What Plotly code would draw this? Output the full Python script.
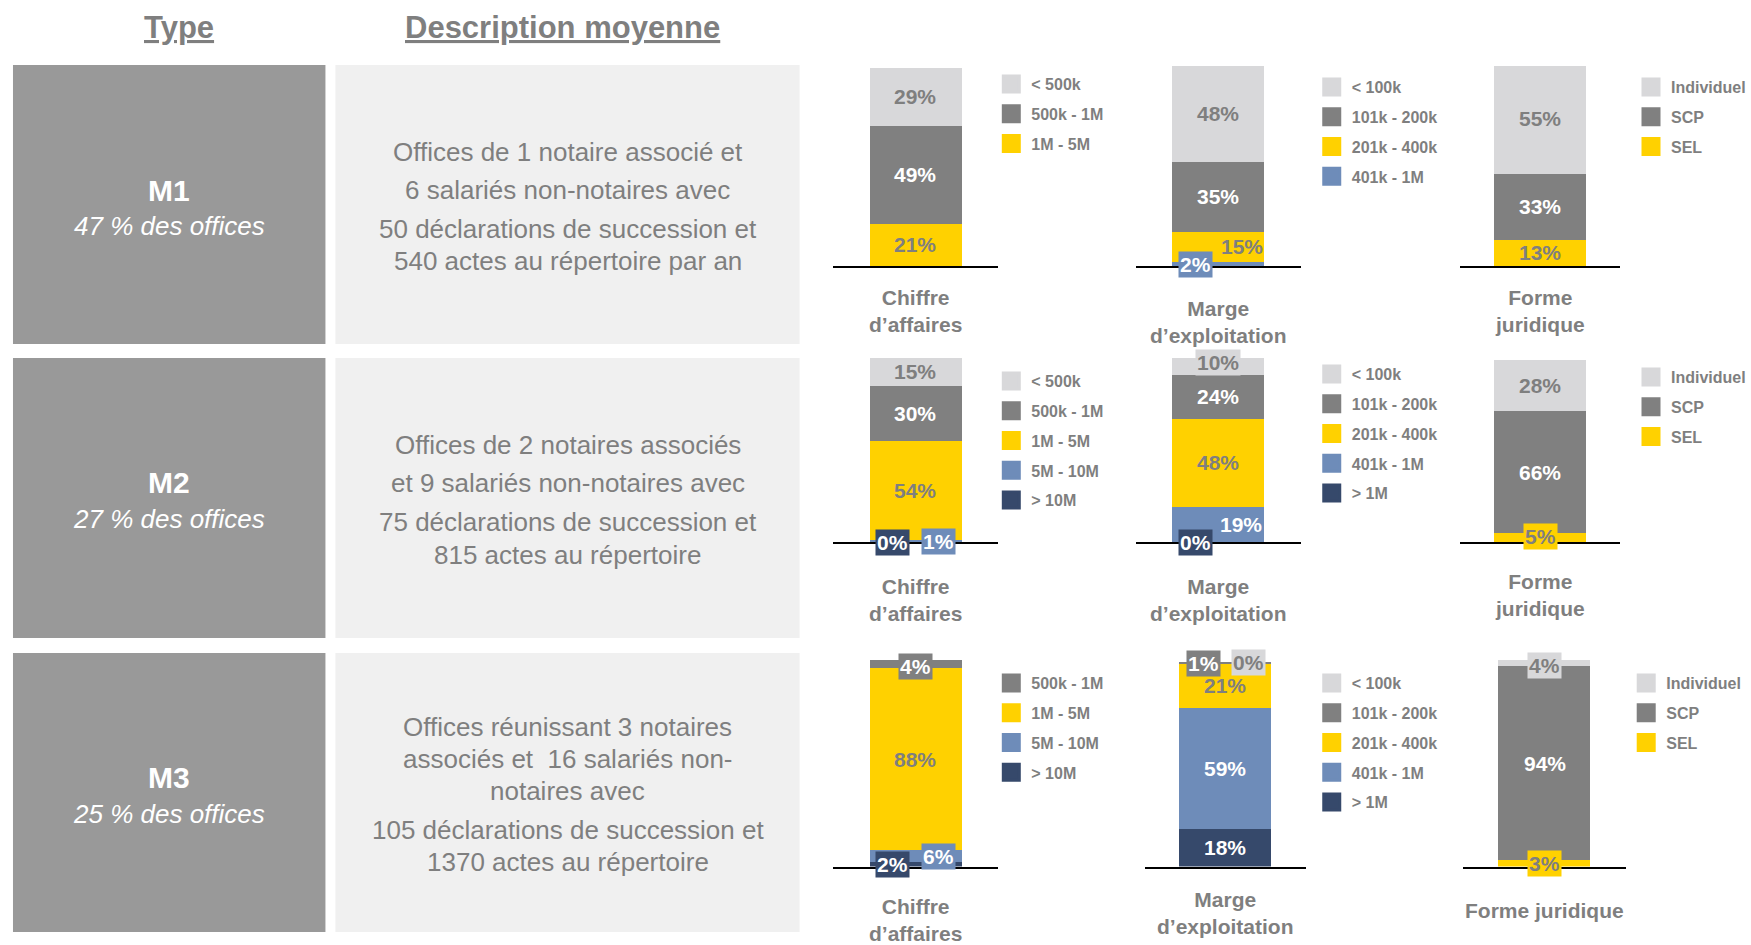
import plotly.graph_objects as go

W, H = 1751, 945
FONT = "Liberation Sans, Arial, sans-serif"
GRAY_TXT = "#7f7f7f"

# ---------------- data ----------------
row_names = ["M1", "M2", "M3"]
row_shares = ["47 % des offices", "27 % des offices", "25 % des offices"]
descriptions = [
    ["Offices de 1 notaire associé et", "6 salariés non-notaires avec",
     "50 déclarations de succession et", "540 actes au répertoire par an"],
    ["Offices de 2 notaires associés", "et 9 salariés non-notaires avec",
     "75 déclarations de succession et", "815 actes au répertoire"],
    ["Offices réunissant 3 notaires", "associés et  16 salariés non-", "notaires avec",
     "105 déclarations de succession et", "1370 actes au répertoire"],
]

# categories listed bottom -> top of each stacked bar
ca_categories = ["> 10M", "5M - 10M", "1M - 5M", "500k - 1M", "< 500k"]
ca_m1 = [None, None, 21, 49, 29]
ca_m2 = [0, 1, 54, 30, 15]
ca_m3 = [2, 6, 88, 4, None]

marge_categories = ["> 1M", "401k - 1M", "201k - 400k", "101k - 200k", "< 100k"]
marge_m1 = [None, 2, 15, 35, 48]
marge_m2 = [0, 19, 48, 24, 10]
marge_m3 = [18, 59, 21, 1, 0]

forme_categories = ["SEL", "SCP", "Individuel"]
forme_m1 = [13, 33, 55]
forme_m2 = [5, 66, 28]
forme_m3 = [3, 94, 4]

chart_titles = [
    ["Chiffre<br>d’affaires", "Marge<br>d’exploitation", "Forme<br>juridique"],
    ["Chiffre<br>d’affaires", "Marge<br>d’exploitation", "Forme<br>juridique"],
    ["Chiffre<br>d’affaires", "Marge<br>d’exploitation", "Forme juridique"],
]

# ---------------- styles ----------------
cat_colors = {
    "< 500k": "#d8d8da", "500k - 1M": "#808080", "1M - 5M": "#ffd100",
    "5M - 10M": "#6e8cb9", "> 10M": "#36496b",
    "< 100k": "#d8d8da", "101k - 200k": "#808080", "201k - 400k": "#ffd100",
    "401k - 1M": "#6e8cb9", "> 1M": "#36496b",
    "Individuel": "#d8d8da", "SCP": "#808080", "SEL": "#ffd100",
}
text_colors = {"#d8d8da": GRAY_TXT, "#ffd100": GRAY_TXT, "#808080": "white",
               "#6e8cb9": "white", "#36496b": "white"}

charts = [
    [(ca_categories, ca_m1), (marge_categories, marge_m1), (forme_categories, forme_m1)],
    [(ca_categories, ca_m2), (marge_categories, marge_m2), (forme_categories, forme_m2)],
    [(ca_categories, ca_m3), (marge_categories, marge_m3), (forme_categories, forme_m3)],
]

# layout (pixels)
row_box = [(65, 344), (358, 638), (653, 932)]
row_base = [266, 542, 866.5]
row_scale = [2.0, 1.84, 2.065]
col_x = [
    [(834, 1000), (1138, 1303), (1463, 1623)],
    [(834, 1000), (1138, 1303), (1463, 1623)],
    [(834, 1000), (1147, 1308), (1466, 1629)],
]
BAR_PX = 92
legend_pos = [
    [(1013, 83), (1334, 86), (1654, 86)],
    [(1013, 380), (1334, 373), (1654, 376)],
    [(1013, 682), (1334, 682), (1649, 682)],
]
title_y = [[311, 322, 311], [600, 600, 595], [920, 913, 910]]
desc_y = [[152, 190, 229, 261], [445, 483, 522, 555], [727, 759, 791, 830, 862]]
m_y = [(190, 226), (483, 519), (777, 814)]

# label tweaks: category -> (xshift, yshift, boxed)
label_style = {
    (0, 1): {"401k - 1M": (-23, 0, True), "201k - 400k": (24, 0, False)},
    (1, 0): {"> 10M": (-23, 0, True), "5M - 10M": (23, 0, True)},
    (1, 1): {"> 1M": (-23, 0, True), "401k - 1M": (23, 0, False), "< 100k": (0, 3, True)},
    (1, 2): {"SEL": (0, 1, True)},
    (2, 0): {"> 10M": (-23, 0, True), "5M - 10M": (23, 0, True), "500k - 1M": (0, -2, True)},
    (2, 1): {"101k - 200k": (-22, 0, True), "< 100k": (23, 0, True)},
    (2, 2): {"SEL": (0, 0, True), "Individuel": (0, -3, True)},
}


def px(x):
    return x / W


def py(y):
    return 1 - y / H


def label(text, x, y, size, color="#7f7f7f"):
    return dict(text=text, x=px(x), y=py(y), xref="paper", yref="paper", showarrow=False,
                xanchor="center", yanchor="middle",
                font=dict(family=FONT, size=size, color=color))


fig = go.Figure()
annotations = []
shapes = []
layout_extra = {}

# background boxes and left texts
for r in range(3):
    y0, y1 = row_box[r]
    shapes.append(dict(type="rect", xref="paper", yref="paper", x0=px(13), x1=px(326),
                       y0=py(y1), y1=py(y0), fillcolor="#999999", line_width=0, layer="below"))
    shapes.append(dict(type="rect", xref="paper", yref="paper", x0=px(336), x1=px(801),
                       y0=py(y1), y1=py(y0), fillcolor="#f0f0f0", line_width=0, layer="below"))
    annotations.append(label("<b>" + row_names[r] + "</b>", 169.5, m_y[r][0], 30, "white"))
    annotations.append(label("<i>" + row_shares[r] + "</i>", 169.5, m_y[r][1], 26, "white"))
    for line, yy in zip(descriptions[r], desc_y[r]):
        annotations.append(label(line, 568.5, yy, 26, GRAY_TXT))

for text, xc in [("Type", 179), ("Description moyenne", 563)]:
    annotations.append(label("<b><u>" + text + "</u></b>", xc, 27, 31, GRAY_TXT))

n = 0
for r in range(3):
    for c in range(3):
        n += 1
        sfx = "" if n == 1 else str(n)
        xa, ya = "x" + sfx, "y" + sfx
        lg = "legend" + sfx
        cats, vals = charts[r][c]
        x0, x1 = col_x[r][c]
        base = row_base[r]
        top = base - 100 * row_scale[r]
        bar_w = BAR_PX / (x1 - x0)
        layout_extra["xaxis" + sfx] = dict(domain=[px(x0), px(x1)], range=[-0.5, 0.5],
                                           showline=True, linecolor="black", linewidth=2,
                                           showgrid=False, zeroline=False, showticklabels=False,
                                           ticks="", fixedrange=True, anchor=ya)
        layout_extra["yaxis" + sfx] = dict(domain=[py(base), py(top)], range=[0, 100],
                                           visible=False, fixedrange=True, anchor=xa)
        styles = label_style.get((r, c), {})
        cum = 0
        for cat, v in zip(cats, vals):
            if v is None:
                continue
            col = cat_colors[cat]
            fig.add_trace(go.Bar(x=[0], y=[v], width=bar_w, marker=dict(color=col, line_width=0),
                                 xaxis=xa, yaxis=ya, showlegend=False, hoverinfo="skip", name=cat))
            dx, dy, boxed = styles.get(cat, (0, 0, False))
            annotations.append(dict(text="<b>%d%%</b>" % v, x=0, y=cum + v / 2, xref=xa, yref=ya,
                                    xshift=dx, yshift=dy, showarrow=False,
                                    xanchor="center", yanchor="middle",
                                    bgcolor=col if boxed else None, borderpad=1,
                                    font=dict(family=FONT, size=21, color=text_colors[col])))
            cum += v
        # legend proxies, top -> bottom
        for k, (cat, v) in enumerate(reversed(list(zip(cats, vals)))):
            if v is None:
                continue
            col = cat_colors[cat]
            fig.add_trace(go.Scatter(x=[None], y=[None], mode="markers", name="<b>" + cat + "</b>",
                                     marker=dict(symbol="square", size=16, color=col,
                                                 line=dict(color=col, width=3)),
                                     xaxis=xa, yaxis=ya, legend=lg, legendgroup="g%d_%d" % (n, k),
                                     showlegend=True, hoverinfo="skip"))
        lx, ly = legend_pos[r][c]
        layout_extra[lg] = dict(x=px(lx - 20), y=py(ly - 16), xanchor="left", yanchor="top",
                                bgcolor="rgba(0,0,0,0)", borderwidth=0, traceorder="grouped",
                                tracegroupgap=6, itemwidth=30, itemclick=False, itemdoubleclick=False,
                                font=dict(family=FONT, size=16, color=GRAY_TXT))
        annotations.append(dict(text="<b>" + chart_titles[r][c] + "</b>", x=0.5, y=py(title_y[r][c]),
                                xref=xa + " domain", yref="paper", showarrow=False,
                                xanchor="center", yanchor="middle",
                                font=dict(family=FONT, size=21, color=GRAY_TXT)))

fig.update_layout(
    width=W, height=H, margin=dict(l=0, r=0, t=0, b=0),
    paper_bgcolor="white", plot_bgcolor="rgba(0,0,0,0)",
    barmode="stack", bargap=0, showlegend=True,
    annotations=annotations, shapes=shapes,
    **layout_extra,
)

fig.write_html("out.html", config={"displayModeBar": False},
               post_script="document.body.style.margin='0';")
